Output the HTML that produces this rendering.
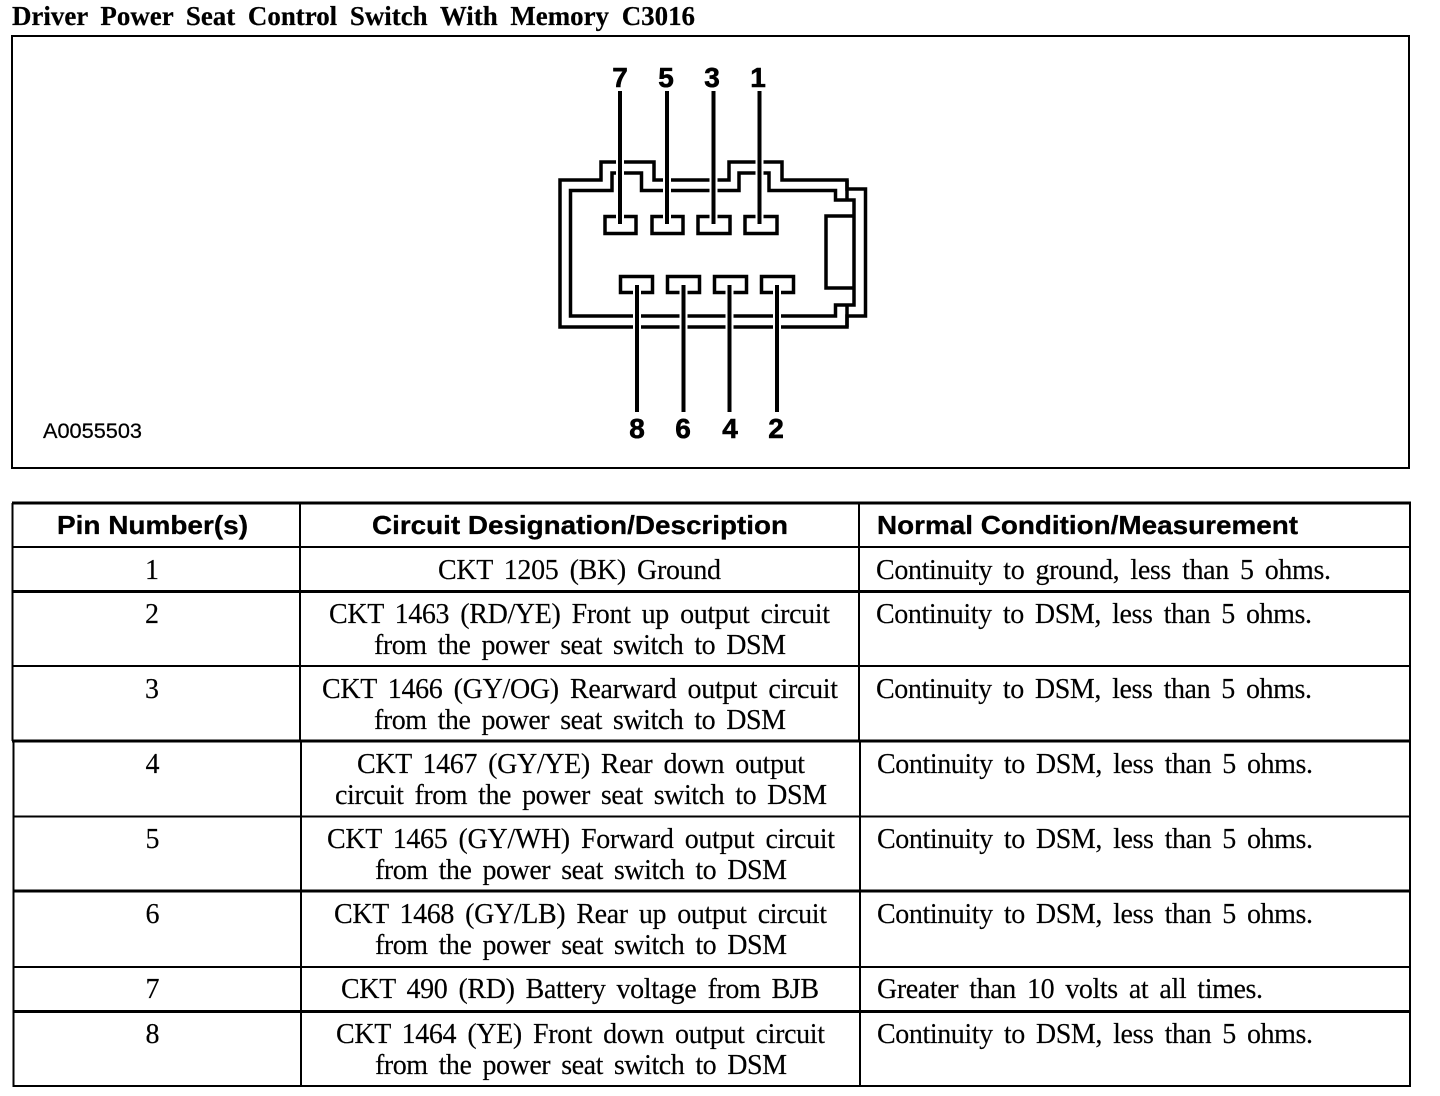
<!DOCTYPE html>
<html><head><meta charset="utf-8"><style>
html,body{margin:0;padding:0;background:#fff;width:1440px;height:1096px;overflow:hidden}
svg{display:block}
.s{font-family:"Liberation Serif",serif;font-size:28px;fill:#000;stroke:#000;stroke-width:.15;word-spacing:4.5px}
.h{font-family:"Liberation Sans",sans-serif;font-size:26px;font-weight:bold;fill:#000;stroke:#000;stroke-width:.3}
.n{font-family:"Liberation Sans",sans-serif;font-size:28px;font-weight:bold;fill:#000;stroke:#000;stroke-width:.6}
.t{font-family:"Liberation Serif",serif;font-size:27px;font-weight:bold;fill:#000;stroke:#000;stroke-width:.2;word-spacing:6px}
.a{font-family:"Liberation Sans",sans-serif;font-size:21.5px;fill:#000;stroke:#000;stroke-width:.25}
</style></head><body>
<svg width="1440" height="1096" viewBox="0 0 1440 1096" xmlns="http://www.w3.org/2000/svg">
<text class="t" x="12" y="25" textLength="683" lengthAdjust="spacingAndGlyphs">Driver Power Seat Control Switch With Memory C3016</text>
<rect x="12" y="36" width="1397" height="432" fill="none" stroke="#000" stroke-width="2"/>

<g fill="none" stroke="#000" stroke-width="3.500">
<path d="M560 180H601V162H654V180H729V162H782V180H847V189H865.500V316H847V327H560Z"/>
<path d="M847 180V200M847 305V327"/>
<path d="M570.500 190.500H612V173H641.500V190.500H739V173H769V190.500H835.500V200H854V305H835.500V316H570.500Z"/>
<path d="M854 216H826V288H854"/>
<rect x="605" y="216.500" width="31" height="17"/>
<rect x="652" y="216.500" width="31" height="17"/>
<rect x="698" y="216.500" width="32" height="17"/>
<rect x="745" y="216.500" width="32" height="17"/>
<rect x="620.500" y="276.500" width="32" height="16"/>
<rect x="667.500" y="276.500" width="32" height="16"/>
<rect x="714.500" y="276.500" width="32" height="16"/>
<rect x="761.500" y="276.500" width="32" height="16"/>
</g>
<g stroke="#fff" stroke-width="8">
<path d="M620 150V221M667 150V221M713.500 150V221M759.500 150V221M637 288V340M683.500 288V340M729.500 288V340M777 288V340"/>
</g>
<g stroke="#000" stroke-width="4">
<path d="M620 91V224M667 91V224M713.500 91V224M759.500 91V224"/>
<path d="M637 285V412M683.500 285V412M729.500 285V412M777 285V412"/>
</g>
<text class="n" x="620" y="87" text-anchor="middle">7</text>
<text class="n" x="666" y="87" text-anchor="middle">5</text>
<text class="n" x="712" y="87" text-anchor="middle">3</text>
<text class="n" x="758" y="87" text-anchor="middle">1</text>
<text class="n" x="637" y="438" text-anchor="middle">8</text>
<text class="n" x="683" y="438" text-anchor="middle">6</text>
<text class="n" x="730" y="438" text-anchor="middle">4</text>
<text class="n" x="776" y="438" text-anchor="middle">2</text>
<text class="a" x="43" y="438" textLength="99" lengthAdjust="spacingAndGlyphs">A0055503</text>

<g stroke="#000" fill="none">
<path stroke-width="3" d="M12 503H1411"/>
<path stroke-width="2" d="M12 547H1411"/>
<path stroke-width="3" d="M12 591.500H1411"/>
<path stroke-width="2" d="M12 666H1411"/>
<path stroke-width="3" d="M12 741H1411"/>
<path stroke-width="2" d="M13 816.500H1411"/>
<path stroke-width="3" d="M13 891H1411"/>
<path stroke-width="2" d="M13 967H1411"/>
<path stroke-width="3" d="M13 1011.500H1411"/>
<path stroke-width="2" d="M13 1086H1411"/>
<path stroke-width="2" d="M12.500 503V741M13.500 741V1087M300 503V741M301 741V1087M859 503V741M860 741V1087M1410 503V1087"/>
</g>

<text class="h" x="57" y="534" textLength="191" lengthAdjust="spacingAndGlyphs">Pin Number(s)</text>
<text class="h" x="372" y="534" textLength="416" lengthAdjust="spacingAndGlyphs">Circuit Designation/Description</text>
<text class="h" x="877" y="534" textLength="421" lengthAdjust="spacingAndGlyphs">Normal Condition/Measurement</text>

<text class="s" x="152" y="579" text-anchor="middle">1</text>
<text class="s" x="152" y="623" text-anchor="middle">2</text>
<text class="s" x="152" y="698" text-anchor="middle">3</text>
<text class="s" x="152.500" y="773" text-anchor="middle">4</text>
<text class="s" x="152.500" y="848" text-anchor="middle">5</text>
<text class="s" x="152.500" y="923" text-anchor="middle">6</text>
<text class="s" x="152.500" y="998" text-anchor="middle">7</text>
<text class="s" x="152.500" y="1043" text-anchor="middle">8</text>

<text class="s" x="438" y="579" textLength="283">CKT 1205 (BK) Ground</text>
<text class="s" x="329" y="623" textLength="501">CKT 1463 (RD/YE) Front up output circuit</text>
<text class="s" x="374" y="654" textLength="412">from the power seat switch to DSM</text>
<text class="s" x="322" y="698" textLength="516">CKT 1466 (GY/OG) Rearward output circuit</text>
<text class="s" x="374" y="729" textLength="412">from the power seat switch to DSM</text>
<text class="s" x="357" y="773" textLength="448">CKT 1467 (GY/YE) Rear down output</text>
<text class="s" x="335" y="804" textLength="492">circuit from the power seat switch to DSM</text>
<text class="s" x="327" y="848" textLength="508">CKT 1465 (GY/WH) Forward output circuit</text>
<text class="s" x="375" y="879" textLength="412">from the power seat switch to DSM</text>
<text class="s" x="334" y="923" textLength="493">CKT 1468 (GY/LB) Rear up output circuit</text>
<text class="s" x="375" y="954" textLength="412">from the power seat switch to DSM</text>
<text class="s" x="341" y="998" textLength="478">CKT 490 (RD) Battery voltage from BJB</text>
<text class="s" x="336" y="1043" textLength="489">CKT 1464 (YE) Front down output circuit</text>
<text class="s" x="375" y="1074" textLength="412">from the power seat switch to DSM</text>

<text class="s" x="876" y="579" textLength="455">Continuity to ground, less than 5 ohms.</text>
<text class="s" x="876" y="623" textLength="436">Continuity to DSM, less than 5 ohms.</text>
<text class="s" x="876" y="698" textLength="436">Continuity to DSM, less than 5 ohms.</text>
<text class="s" x="877" y="773" textLength="436">Continuity to DSM, less than 5 ohms.</text>
<text class="s" x="877" y="848" textLength="436">Continuity to DSM, less than 5 ohms.</text>
<text class="s" x="877" y="923" textLength="436">Continuity to DSM, less than 5 ohms.</text>
<text class="s" x="877" y="998" textLength="386">Greater than 10 volts at all times.</text>
<text class="s" x="877" y="1043" textLength="436">Continuity to DSM, less than 5 ohms.</text>
</svg>
</body></html>
